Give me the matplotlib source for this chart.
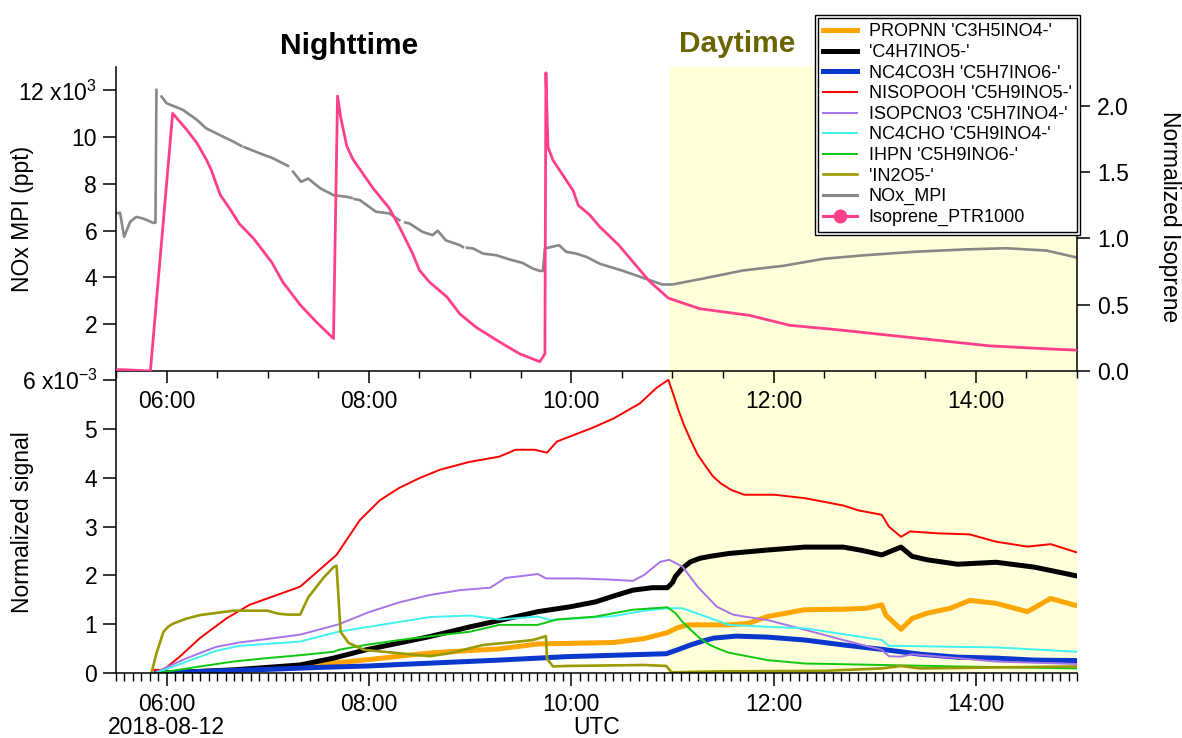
import numpy as np
import matplotlib
matplotlib.use("Agg")
import matplotlib.pyplot as plt
from matplotlib.lines import Line2D
from matplotlib.patches import Rectangle
from matplotlib.ticker import FixedLocator, MultipleLocator, FuncFormatter

plt.rcParams['font.family'] = ['Liberation Sans', 'DejaVu Sans']
plt.rcParams['mathtext.fontset'] = 'custom'
plt.rcParams['mathtext.rm'] = 'Liberation Sans'
plt.rcParams['mathtext.it'] = 'Liberation Sans'

nan = np.nan
# ---------------- data (time in decimal hours UTC, 2018-08-12) ----------------
nox_t = [5.50, 5.54, 5.58, 5.64, 5.70, 5.77, 5.87, 5.89, 5.90, 5.92, 5.95, 6.00, 6.16, 6.30, 6.39,
         6.56, 6.66, 6.74, 6.755, 6.77, 6.92, 7.05, 7.20, 7.22, 7.25, 7.33, 7.40, 7.52, 7.65, 7.78,
         7.83, 7.845, 7.86, 7.91, 8.07, 8.20, 8.30, 8.33, 8.36, 8.40, 8.53, 8.63, 8.68, 8.76, 8.90,
         8.93, 8.95, 8.97, 9.03, 9.13, 9.26, 9.39, 9.52, 9.62, 9.69, 9.72, 9.74, 9.88, 9.95, 10.05,
         10.15, 10.28, 10.50, 10.70, 10.90, 11.00, 11.30, 11.70, 12.10, 12.50, 12.90, 13.40, 13.90,
         14.30, 14.70, 15.00]
nox_v = [6.74, 6.77, 5.74, 6.38, 6.59, 6.52, 6.33, 6.35, 12.02, nan, 11.74, 11.45, 11.17, 10.74, 10.38,
         10.02, 9.81, 9.62, nan, 9.57, 9.31, 9.10, 8.77, nan, 8.52, 8.09, 8.23, 7.81, 7.52, 7.45,
         7.40, nan, 7.35, 7.31, 6.81, 6.74, 6.45, nan, 6.35, 6.31, 5.95, 5.81, 6.00, 5.59, 5.38,
         5.30, nan, 5.27, 5.24, 5.02, 4.95, 4.77, 4.62, 4.38, 4.28, 4.28, 5.24, 5.38, 5.10, 5.02,
         4.88, 4.59, 4.30, 4.00, 3.70, 3.70, 3.95, 4.30, 4.50, 4.80, 4.95, 5.10, 5.20,
         5.25, 5.15, 4.85]

iso_t = [5.50, 5.57, 5.84, 6.06, 6.20, 6.30, 6.39, 6.44, 6.53, 6.62, 6.72, 6.86, 7.04, 7.15, 7.32,
         7.48, 7.65, 7.69, 7.72, 7.78, 7.84, 8.04, 8.20, 8.30, 8.43, 8.50, 8.60, 8.77, 8.90, 9.06,
         9.29, 9.49, 9.69, 9.74, 9.75, 9.77, 9.82, 10.02, 10.07, 10.18, 10.28, 10.47, 10.77, 10.96,
         11.27, 11.76, 12.16, 12.65, 13.14, 13.64, 14.13, 14.63, 15.00]
iso_v = [0.01, 0.01, 0.00, 1.944, 1.82, 1.72, 1.60, 1.52, 1.33, 1.23, 1.11, 1.00, 0.82, 0.67, 0.50,
         0.37, 0.245, 2.075, 1.92, 1.70, 1.60, 1.38, 1.23, 1.09, 0.89, 0.76, 0.67, 0.56, 0.43, 0.33,
         0.22, 0.13, 0.07, 0.13, 2.25, 1.69, 1.59, 1.36, 1.25, 1.18, 1.09, 0.95, 0.68, 0.55,
         0.47, 0.42, 0.345, 0.31, 0.27, 0.23, 0.19, 0.17, 0.157]

red_t = [5.87, 5.97, 6.13, 6.33, 6.59, 6.82, 7.09, 7.32, 7.68, 7.91, 8.11, 8.30, 8.50, 8.70, 8.99,
         9.29, 9.45, 9.64, 9.76, 9.86, 10.20, 10.42, 10.68, 10.84, 10.96, 11.01, 11.06, 11.12, 11.18,
         11.25, 11.33, 11.40, 11.48, 11.58, 11.71, 12.01, 12.31, 12.69, 12.84, 13.07, 13.14, 13.26,
         13.35, 13.64, 13.94, 14.20, 14.51, 14.74, 15.00]
red_v = [0.07, 0.07, 0.34, 0.72, 1.12, 1.40, 1.60, 1.77, 2.42, 3.13, 3.54, 3.79, 3.99, 4.16, 4.32,
         4.43, 4.57, 4.57, 4.51, 4.74, 5.01, 5.21, 5.52, 5.83, 6.00, 5.70, 5.38, 5.05, 4.77,
         4.47, 4.23, 4.03, 3.88, 3.75, 3.65, 3.65, 3.58, 3.43, 3.33, 3.24, 3.00, 2.79,
         2.90, 2.86, 2.84, 2.69, 2.59, 2.64, 2.47]

olive_t = [5.85, 5.90, 5.97, 6.02, 6.07, 6.20, 6.33, 6.66, 7.00, 7.10, 7.20, 7.32, 7.40, 7.55, 7.65,
           7.68, 7.72, 7.80, 7.95, 8.30, 8.60, 8.80, 9.13, 9.39, 9.62, 9.75, 9.76, 9.82, 9.95, 10.72,
           10.94, 10.99, 11.50, 12.50, 13.07, 13.26, 13.45, 14.20, 15.00]
olive_v = [0.00, 0.41, 0.85, 0.96, 1.02, 1.12, 1.19, 1.28, 1.28, 1.22, 1.20, 1.20, 1.55, 1.95, 2.17,
           2.20, 0.85, 0.62, 0.48, 0.41, 0.35, 0.41, 0.58, 0.63, 0.68, 0.76, 0.30, 0.14, 0.15, 0.17,
           0.15, 0.02, 0.04, 0.05, 0.10, 0.15, 0.10, 0.12, 0.14]

black_t = [5.90, 6.66, 7.32, 7.65, 7.97, 8.30, 8.60, 9.00, 9.29, 9.67, 9.99, 10.24, 10.42, 10.61,
           10.80, 10.95, 11.00, 11.03, 11.10, 11.18, 11.27, 11.37, 11.56, 11.94, 12.31, 12.69, 12.88,
           13.07, 13.26, 13.37, 13.52, 13.82, 14.20, 14.58, 15.00]
black_v = [0.00, 0.07, 0.17, 0.31, 0.48, 0.62, 0.75, 0.95, 1.08, 1.26, 1.36, 1.46, 1.58, 1.70,
           1.75, 1.75, 1.85, 1.98, 2.15, 2.28, 2.35, 2.39, 2.45, 2.52, 2.58, 2.58, 2.51,
           2.42, 2.58, 2.39, 2.32, 2.23, 2.27, 2.17, 1.99]

blue_t = [5.90, 6.50, 7.00, 7.50, 8.00, 8.30, 9.29, 9.95, 10.94, 11.05, 11.18, 11.30, 11.41, 11.63,
          11.94, 12.31, 12.69, 13.07, 13.45, 13.82, 14.20, 14.58, 15.00]
blue_v = [0.00, 0.05, 0.08, 0.12, 0.15, 0.18, 0.27, 0.34, 0.40, 0.48, 0.58, 0.66, 0.72, 0.76,
          0.74, 0.68, 0.58, 0.49, 0.39, 0.33, 0.31, 0.27, 0.26]

orange_t = [5.95, 6.50, 7.00, 7.50, 8.00, 8.30, 8.63, 9.29, 9.67, 10.42, 10.72, 10.95, 11.05, 11.15,
            11.56, 11.75, 11.94, 12.31, 12.69, 12.92, 13.07, 13.11, 13.26, 13.37, 13.52, 13.75, 13.94,
            14.20, 14.51, 14.74, 15.00]
orange_v = [0.00, 0.05, 0.10, 0.18, 0.28, 0.35, 0.42, 0.50, 0.60, 0.63, 0.71, 0.83, 0.93, 0.99,
            0.99, 1.02, 1.16, 1.30, 1.31, 1.33, 1.40, 1.19, 0.90, 1.12, 1.23, 1.33, 1.49,
            1.43, 1.26, 1.53, 1.38]

purple_t = [5.90, 6.20, 6.49, 6.72, 6.99, 7.32, 7.70, 8.00, 8.30, 8.60, 8.90, 9.20, 9.35, 9.48, 9.67,
            9.75, 10.05, 10.34, 10.61, 10.72, 10.88, 10.97, 11.10, 11.25, 11.44, 11.60, 11.71, 11.94,
            12.31, 12.69, 13.07, 13.14, 13.26, 13.37, 13.82, 14.20, 15.00]
purple_v = [0.03, 0.31, 0.54, 0.63, 0.70, 0.79, 1.00, 1.25, 1.45, 1.60, 1.70, 1.75, 1.95, 1.98, 2.03,
            1.94, 1.94, 1.92, 1.89, 2.01, 2.28, 2.32, 2.18, 1.77, 1.36, 1.20, 1.16, 1.09,
            0.89, 0.68, 0.48, 0.35, 0.34, 0.39, 0.31, 0.24, 0.19]

cyan_t = [5.90, 6.20, 6.49, 6.72, 6.99, 7.32, 7.70, 8.00, 8.30, 8.60, 9.00, 9.29, 9.67, 9.79, 10.05,
          10.42, 10.72, 10.95, 11.10, 11.33, 11.56, 11.94, 12.31, 12.69, 13.07, 13.14, 13.26, 13.82,
          14.20, 15.00]
cyan_v = [0.01, 0.24, 0.46, 0.56, 0.60, 0.65, 0.85, 0.95, 1.05, 1.15, 1.18, 1.10, 1.16, 1.09, 1.12,
          1.17, 1.28, 1.33, 1.33, 1.16, 0.99, 0.95, 0.92, 0.80, 0.68, 0.56, 0.56, 0.54,
          0.53, 0.44]

green_t = [5.90, 6.33, 6.66, 6.99, 7.32, 7.65, 7.70, 7.97, 8.30, 8.70, 9.00, 9.29, 9.67, 9.86, 10.24,
           10.61, 10.95, 11.03, 11.10, 11.18, 11.27, 11.37, 11.47, 11.56, 11.94, 12.31, 12.58, 13.07,
           13.82, 15.00]
green_v = [0.00, 0.14, 0.24, 0.31, 0.37, 0.44, 0.48, 0.58, 0.68, 0.78, 0.85, 0.99, 0.99, 1.10, 1.16,
           1.30, 1.35, 1.23, 1.05, 0.89, 0.72, 0.58, 0.49, 0.42, 0.27, 0.20, 0.19, 0.17,
           0.14, 0.10]

series = [
    ("PROPNN 'C3H5INO4-'", orange_t, orange_v, '#ffa500', 3.6),
    ("'C4H7INO5-'", black_t, black_v, '#000000', 3.6),
    ("NC4CO3H 'C5H7INO6-'", blue_t, blue_v, '#0a37cc', 3.6),
    ("NISOPOOH 'C5H9INO5-'", red_t, red_v, '#ff0000', 1.4),
    ("ISOPCNO3 'C5H7INO4-'", purple_t, purple_v, '#a674e6', 1.4),
    ("NC4CHO 'C5H9INO4-'", cyan_t, cyan_v, '#40f2f2', 1.4),
    ("IHPN 'C5H9INO6-'", green_t, green_v, '#10c810', 1.4),
    ("'IN2O5-'", olive_t, olive_v, '#999900', 1.9),
]
nox_color = '#888888'
iso_color = '#ff3f8a'
day_start = 10.97
x_min, x_max = 5.5, 15.0

# ---------------- figure ----------------
W, H = 1182, 738
fig = plt.figure(figsize=(W / 100, H / 100), dpi=100)
L, R = 116 / W, 1077 / W
ax_bot = fig.add_axes([L, 1 - 673.3 / H, R - L, (673.3 - 371) / H])
ax_top = fig.add_axes([L, 1 - 371 / H, R - L, (371 - 67) / H])
ax_top.set_zorder(2)
ax_bot.set_zorder(1)
ax_bot.patch.set_visible(False)

FS = 16.5
def hhmm(v, pos=None):
    h = int(np.floor(v + 1e-6))
    m = int(round((v - h) * 60))
    return f"{h:02d}:{m:02d}"

# --- bottom panel ---
ax_bot.axvspan(day_start, x_max, color='#ffffd9', zorder=0, lw=0)
for name, t, v, c, lw in series:
    ax_bot.plot(t, v, color=c, lw=lw, label=name, solid_joinstyle='round', zorder=2)
ax_bot.set_xlim(x_min, x_max)
ax_bot.set_ylim(0, 6.18)
for s in ['top', 'right']:
    ax_bot.spines[s].set_visible(False)
ax_bot.spines['left'].set_linewidth(1.1)
ax_bot.spines['bottom'].set_linewidth(1.1)
ax_bot.xaxis.set_major_locator(FixedLocator([6, 8, 10, 12, 14]))
ax_bot.xaxis.set_minor_locator(MultipleLocator(5 / 60))
ax_bot.xaxis.set_major_formatter(FuncFormatter(hhmm))
ax_bot.yaxis.set_major_locator(FixedLocator([0, 1, 2, 3, 4, 5, 6]))
ax_bot.yaxis.set_major_formatter(FuncFormatter(
    lambda v, p: r'$\mathregular{6\ x10^{-3}}$' if abs(v - 6) < 1e-6 else f"{int(round(v))}"))
ax_bot.tick_params(axis='x', which='major', length=9.5, width=1.1, pad=5, labelsize=FS)
ax_bot.tick_params(axis='x', which='minor', length=5.8, width=1.0)
ax_bot.tick_params(axis='y', which='major', length=9.5, width=1.1, pad=4, labelsize=FS)

# --- top panel ---
ax_top.axvspan(day_start, x_max, color='#ffffd9', zorder=0, lw=0)
ax_top.plot(nox_t, nox_v, color=nox_color, lw=1.9, zorder=2)
ax_top.set_xlim(x_min, x_max)
ax_top.set_ylim(0, 13.0)
ax_top.spines['top'].set_visible(False)
ax_top.spines['right'].set_visible(False)
ax_top.spines['left'].set_linewidth(1.1)
ax_top.spines['bottom'].set_linewidth(1.1)
ax_top.xaxis.set_major_locator(FixedLocator([6, 8, 10, 12, 14]))
ax_top.xaxis.set_minor_locator(MultipleLocator(0.5))
ax_top.xaxis.set_major_formatter(FuncFormatter(hhmm))
ax_top.yaxis.set_major_locator(FixedLocator([2, 4, 6, 8, 10, 12]))
ax_top.yaxis.set_major_formatter(FuncFormatter(
    lambda v, p: r'$\mathregular{12\ x10^{3}}$' if abs(v - 12) < 1e-6 else f"{int(round(v))}"))
ax_top.tick_params(axis='x', which='major', length=8.6, width=1.1, pad=5, labelsize=FS)
ax_top.tick_params(axis='x', which='minor', length=5.0, width=1.0)
ax_top.tick_params(axis='y', which='major', length=9.5, width=1.1, pad=4, labelsize=FS)

ax_iso = ax_top.twinx()
ax_iso.set_zorder(3)
ax_iso.patch.set_visible(False)
ax_iso.plot(iso_t, iso_v, color=iso_color, lw=2.0, zorder=3)
ax_iso.set_xlim(x_min, x_max)
ax_iso.set_ylim(0, 2.294)
for s in ['top', 'left', 'bottom']:
    ax_iso.spines[s].set_visible(False)
ax_iso.spines['right'].set_linewidth(1.1)
ax_iso.yaxis.set_major_locator(FixedLocator([0, 0.5, 1.0, 1.5, 2.0]))
ax_iso.yaxis.set_major_formatter(FuncFormatter(lambda v, p: f"{v:.1f}"))
ax_iso.tick_params(axis='y', which='major', length=9.5, width=1.1, pad=5, labelsize=FS)

# axis titles as figure text (pixel positions)
fig.text(23 / W, 1 - 219 / H, 'NOx MPI (ppt)', rotation=90, ha='center', va='center', fontsize=FS)
fig.text(23 / W, 1 - 522 / H, 'Normalized signal', rotation=90, ha='center', va='center', fontsize=FS)
fig.text(1170 / W, 1 - 217 / H, 'Normalized Isoprene', rotation=270, ha='center', va='center',
         fontsize=FS)

# extra text
fig.text(166 / W, 1 - 728 / H, '2018-08-12', ha='center', va='center', fontsize=FS)
fig.text(597 / W, 1 - 727 / H, 'UTC', ha='center', va='center', fontsize=FS)
fig.text(349 / W, 1 - 46 / H, 'Nighttime', ha='center', va='center', fontsize=21.5,
         fontweight='bold', color='black')
fig.text(737 / W, 1 - 44 / H, 'Daytime', ha='center', va='center', fontsize=21.5,
         fontweight='bold', color='#6b6500')

# legend
handles = [Line2D([], [], color=c, lw=lw) for _, _, _, c, lw in series]
labels = [s[0] for s in series]
handles += [Line2D([], [], color=nox_color, lw=2.2),
            Line2D([], [], color=iso_color, lw=2.2, marker='o', markersize=9)]
labels += ['NOx_MPI', 'Isoprene_PTR1000']
leg = fig.legend(handles, labels, loc='upper left', bbox_to_anchor=(818 / W, 1 - 18 / H),
                 bbox_transform=fig.transFigure, fontsize=13, frameon=True, fancybox=False,
                 borderpad=0.3, labelspacing=0.2, handlelength=1.85, handletextpad=0.65,
                 borderaxespad=0)
leg.set_zorder(10)
leg.get_frame().set_edgecolor('black')
leg.get_frame().set_linewidth(1.0)
leg.get_frame().set_alpha(1)

fig.canvas.draw()
bb = leg.get_window_extent()
outer = Rectangle((bb.x0 - 3, bb.y0 - 3), bb.width + 6, bb.height + 6, transform=None,
                  fill=True, facecolor='white', edgecolor='black', lw=1.0, zorder=9)
fig.add_artist(outer)

fig.savefig('out.png', dpi=100)
